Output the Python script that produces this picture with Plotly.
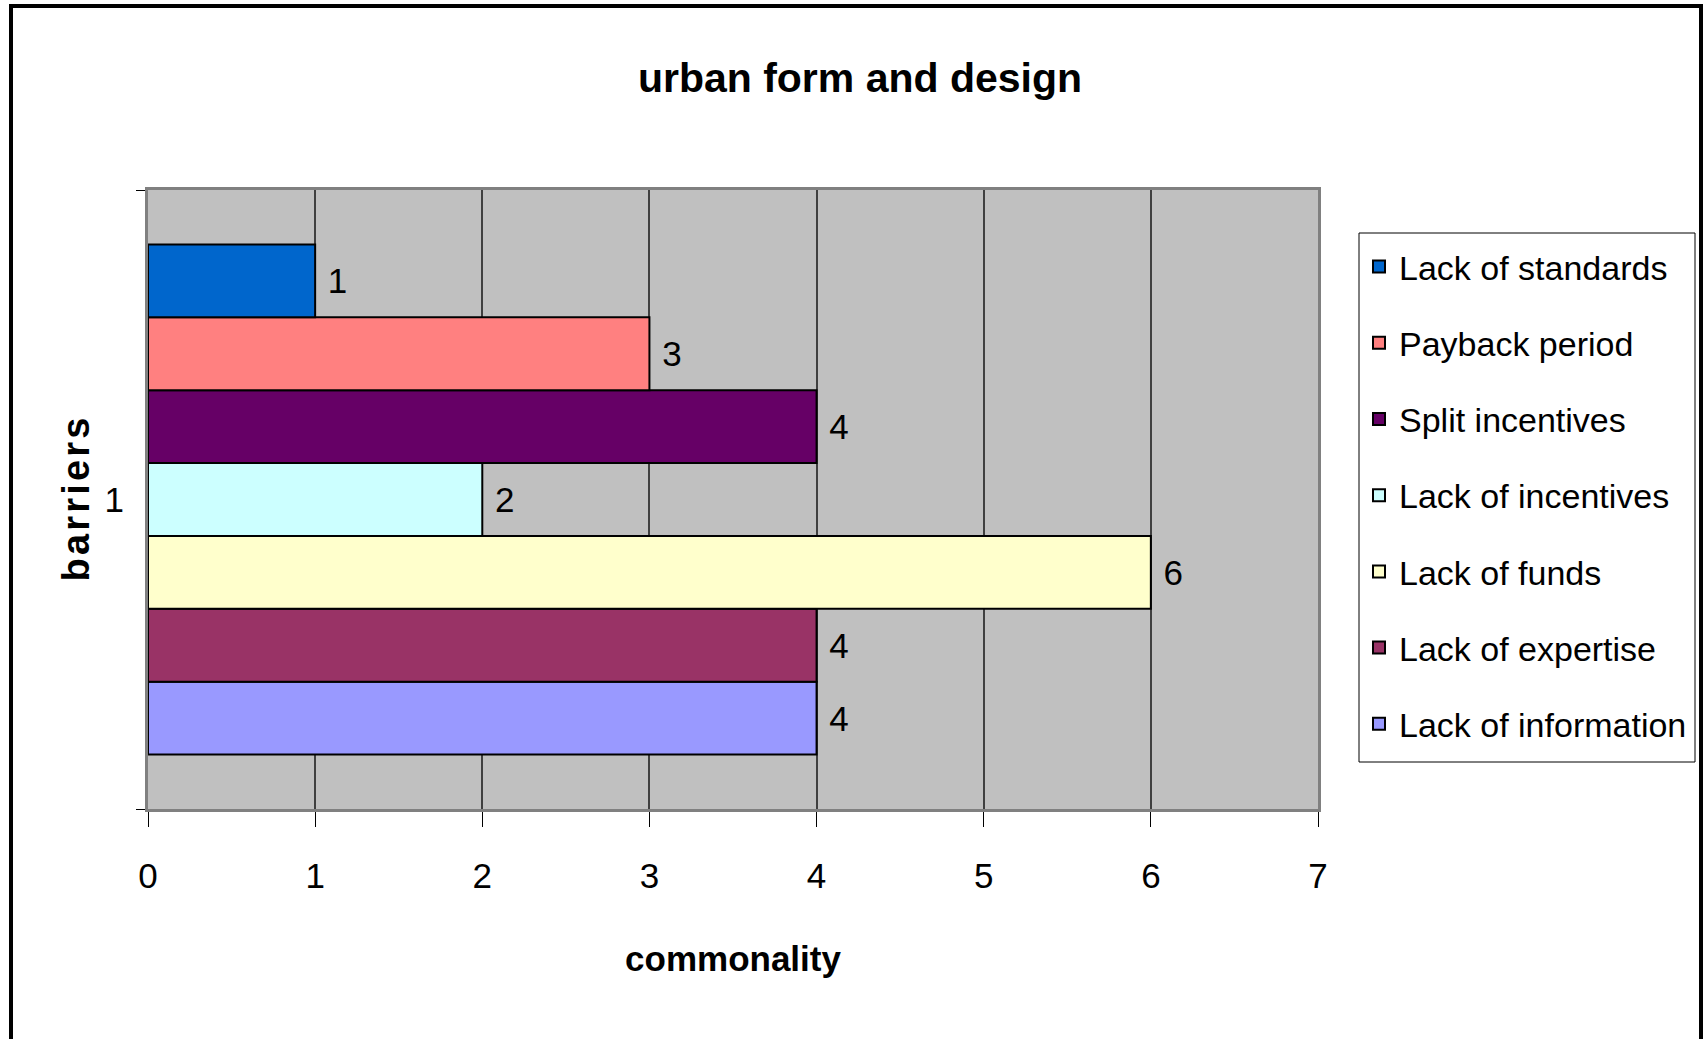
import plotly.graph_objects as go

# series listed bottom-to-top, as Excel stacks them
barriers = [
    "Lack of information",
    "Lack of expertise",
    "Lack of funds",
    "Lack of incentives",
    "Split incentives",
    "Payback period",
    "Lack of standards",
]
commonality = [4, 4, 6, 2, 4, 3, 1]
colors = ["#9999FF", "#993366", "#FFFFCC", "#CCFFFF", "#660066", "#FF8080", "#0066CC"]
category = ["1"]

FONT = "Liberation Sans, Arial, sans-serif"

# plot area in pixels (left, right, top, bottom)
L, R, T, B = 148, 1318, 190, 809
W, H = 1708, 1039
PW, PH = R - L, B - T


def px(x):
    return (x - L) / PW


def py(y):
    return (B - y) / PH


fig = go.Figure()
for i, (name, val, col) in enumerate(zip(barriers, commonality, colors)):
    fig.add_trace(go.Bar(
        name=name,
        y=category,
        x=[val],
        orientation="h",
        marker=dict(color=col, line=dict(color="black", width=2)),
        text=[f"\u00a0{val}"],
        textposition="outside",
        textfont=dict(family=FONT, size=35, color="black"),
        cliponaxis=False,
        legendgroup=f"g{i}",
        legendrank=len(barriers) - i,
    ))

fig.update_layout(
    width=W,
    height=H,
    margin=dict(l=L, r=W - R, t=T, b=H - B, autoexpand=False),
    paper_bgcolor="white",
    plot_bgcolor="#C0C0C0",
    barmode="group",
    bargap=0.176,
    bargroupgap=0,
    font=dict(family=FONT, size=35, color="black"),
    title=dict(
        text="<b>urban form and design</b>",
        x=860 / W, xanchor="center",
        y=1 - 78 / H, yanchor="middle",
        font=dict(family=FONT, size=41, color="black"),
    ),
    xaxis=dict(
        range=[0, 7],
        dtick=1,
        tick0=0,
        showgrid=True,
        gridcolor="#404040",
        gridwidth=1.5,
        ticks="outside",
        ticklen=15,
        tickcolor="black",
        showline=True,
        linecolor="#808080",
        linewidth=3,
        mirror=True,
        zeroline=False,
        tickfont=dict(family=FONT, size=35),
        ticklabelstandoff=19,
        title=dict(text="<b>commonality</b>", font=dict(family=FONT, size=35), standoff=53),
    ),
    yaxis=dict(
        type="category",
        tickson="boundaries",
        ticks="outside",
        ticklen=9,
        tickcolor="black",
        showgrid=False,
        showline=True,
        linecolor="#808080",
        linewidth=3,
        mirror=True,
        tickfont=dict(family=FONT, size=35),
        ticklabelstandoff=14,
        title=dict(text="<b>" + "\u200a".join("barriers") + "</b>",
                   font=dict(family=FONT, size=38), standoff=4),
    ),
    legend=dict(
        x=px(1359), xanchor="left",
        y=py(238), yanchor="top",
        bgcolor="rgba(0,0,0,0)",
        borderwidth=0,
        traceorder="grouped",
        tracegroupgap=29,
        font=dict(family=FONT, size=34),
    ),
    shapes=[
        # legend box
        dict(
            type="rect", xref="paper", yref="paper",
            x0=px(1359), x1=px(1695), y0=py(762), y1=py(233),
            line=dict(color="black", width=1),
            fillcolor="white",
            layer="below",
        ),
        # outer chart frame
        dict(
            type="rect", xref="paper", yref="paper",
            x0=px(11), x1=px(1701), y0=py(1060), y1=py(6),
            line=dict(color="black", width=4),
            fillcolor="rgba(0,0,0,0)",
            layer="above",
        ),
    ],
)

fig.write_html(
    "out.html",
    config={"displayModeBar": False},
    post_script="document.body.style.margin='0';document.body.style.overflow='hidden';",
)
